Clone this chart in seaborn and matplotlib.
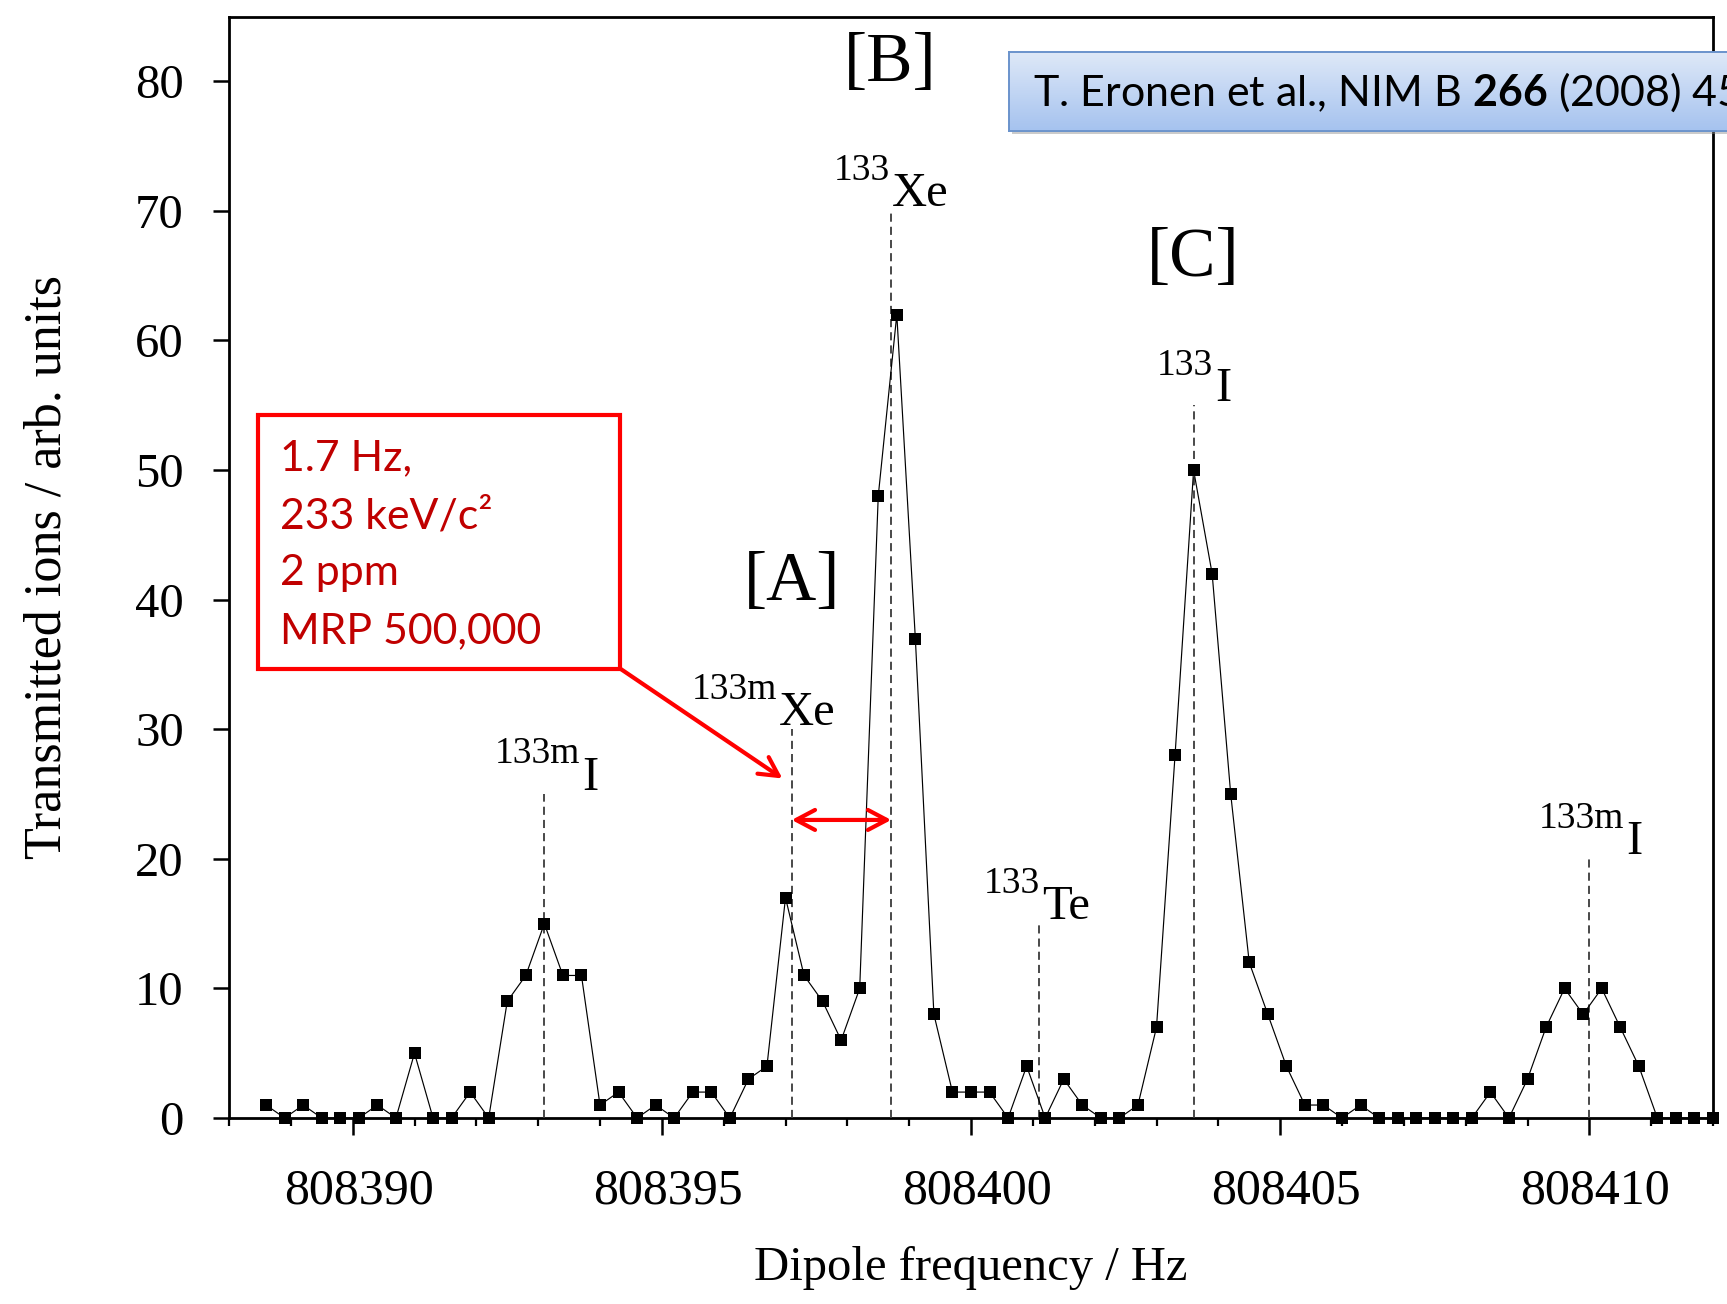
import numpy as np
import pandas as pd
import matplotlib
matplotlib.use("Agg")
import matplotlib.pyplot as plt
import seaborn as sns
from matplotlib.patches import Rectangle
from matplotlib.ticker import MultipleLocator
from matplotlib.colors import LinearSegmentedColormap
from matplotlib.transforms import ScaledTranslation

# ---------------- data ----------------
dipole_freq_hz = [
    808388.6, 808388.9, 808389.2, 808389.5, 808389.8, 808390.1, 808390.4, 808390.7, 808391.0, 808391.3,
    808391.6, 808391.9, 808392.2, 808392.5, 808392.8, 808393.1, 808393.4, 808393.7, 808394.0, 808394.3,
    808394.6, 808394.9, 808395.2, 808395.5, 808395.8, 808396.1, 808396.4, 808396.7, 808397.0, 808397.3,
    808397.6, 808397.9, 808398.2, 808398.5, 808398.8, 808399.1, 808399.4, 808399.7, 808400.0, 808400.3,
    808400.6, 808400.9, 808401.2, 808401.5, 808401.8, 808402.1, 808402.4, 808402.7, 808403.0, 808403.3,
    808403.6, 808403.9, 808404.2, 808404.5, 808404.8, 808405.1, 808405.4, 808405.7, 808406.0, 808406.3,
    808406.6, 808406.9, 808407.2, 808407.5, 808407.8, 808408.1, 808408.4, 808408.7, 808409.0, 808409.3,
    808409.6, 808409.9, 808410.2, 808410.5, 808410.8, 808411.1, 808411.4, 808411.7, 808412.0,
]
transmitted_ions = [
    1, 0, 1, 0, 0, 0, 1, 0, 5, 0,
    0, 2, 0, 9, 11, 15, 11, 11, 1, 2,
    0, 1, 0, 2, 2, 0, 3, 4, 17, 11,
    9, 6, 10, 48, 62, 37, 8, 2, 2, 2,
    0, 4, 0, 3, 1, 0, 0, 1, 7, 28,
    50, 42, 25, 12, 8, 4, 1, 1, 0, 1,
    0, 0, 0, 0, 0, 0, 2, 0, 3, 7,
    10, 8, 10, 7, 4, 0, 0, 0, 0,
]

x_ticks = [808390, 808395, 808400, 808405, 808410]
x_tick_labels = ["808390", "808395", "808400", "808405", "808410"]
y_ticks = [0, 10, 20, 30, 40, 50, 60, 70, 80]
y_tick_labels = ["0", "10", "20", "30", "40", "50", "60", "70", "80"]

iso_mass = ["133m", "133m", "133", "133", "133", "133m"]
iso_elem = ["I", "Xe", "Xe", "Te", "I", "I"]
iso_freq = [808393.1, 808397.1, 808398.7, 808401.1, 808403.6, 808410.0]
iso_top = [25, 30, 70, 15, 55, 20]
iso_label_shift = [0.60, -0.22, 0.0, 0.04, 0.33, 0.58]

group_names = ["[A]", "[B]", "[C]"]
group_freq = [808397.1, 808398.7, 808403.6]
group_y = [40, 80, 65]

note_lines = ["1.7 Hz,", "233 keV/c\u00b2", "2 ppm", "MRP 500,000"]
citation = r"T. Eronen et al., NIM B $\mathbf{266}$ (2008) 45"

# ---------------- style ----------------
sns.set_style("ticks")
plt.rcParams.update({
    "font.family": ["Liberation Serif", "DejaVu Serif"],
    "text.color": "black",
    "axes.labelcolor": "black",
    "axes.edgecolor": "black",
    "xtick.color": "black",
    "ytick.color": "black",
    "mathtext.fontset": "custom",
    "mathtext.rm": "Lato",
    "mathtext.it": "Lato:italic",
    "mathtext.bf": "Lato:bold",
})

W, H = 1727, 1304
def fxy(px, py):
    return (px / W, 1 - py / H)

fig = plt.figure(figsize=(W / 100, H / 100), dpi=100)
ax = fig.add_axes([229 / W, 1 - 1118 / H, (1713 - 229) / W, (1118 - 16.5) / H])

df = pd.DataFrame({"freq": dipole_freq_hz, "ions": transmitted_ions})
sns.lineplot(data=df, x="freq", y="ions", ax=ax, color="black", lw=0.85,
             marker="s", markersize=8, markeredgewidth=0, markerfacecolor="black",
             estimator=None, sort=False, clip_on=False, zorder=5)

ax.set_xlim(808388.0, 808412.0)
ax.set_ylim(0, 85)
ax.set_xticks(x_ticks)
ax.set_xticklabels(x_tick_labels)
ax.set_yticks(y_ticks)
ax.set_yticklabels(y_tick_labels)
ax.xaxis.set_minor_locator(MultipleLocator(1))
ax.tick_params(axis="both", which="major", direction="out", width=1.8)
ax.tick_params(axis="x", which="major", length=12, pad=24, labelsize=36)
ax.tick_params(axis="y", which="major", length=11.5, pad=21, labelsize=35)
ax.tick_params(axis="x", which="minor", direction="out", length=6, width=1.6)
shift = ScaledTranslation(0.06, 0, fig.dpi_scale_trans)
for lab in ax.get_xticklabels():
    lab.set_transform(lab.get_transform() + shift)
for sp in ax.spines.values():
    sp.set_linewidth(2.0)
    sp.set_visible(True)

ax.set_xlabel("Dipole frequency / Hz", fontsize=35)
ax.set_ylabel("Transmitted ions / arb. units", fontsize=37.5)
ax.xaxis.set_label_coords(0.5, -0.116)
ax.yaxis.set_label_coords(-0.106, 0.5)

# isotope markers
for m, e, f, top, s in zip(iso_mass, iso_elem, iso_freq, iso_top, iso_label_shift):
    ax.vlines(f, 0, top, colors="#3a3a3a", linestyles=(0, (4.5, 2.8)), lw=1.3, zorder=3)
    ax.annotate(m, xy=(f + s, top), xytext=(-0.8, 22), textcoords="offset points",
                ha="right", va="baseline", fontsize=27)
    ax.annotate(e, xy=(f + s, top), xytext=(0.8, 3.2), textcoords="offset points",
                ha="left", va="baseline", fontsize=35)

for name, f, y in zip(group_names, group_freq, group_y):
    ax.text(f, y, name, ha="center", va="baseline", fontsize=50)

# red annotation box
red = "#ff0000"
ax.add_patch(Rectangle(fxy(258, 668.5), (620 - 258) / W, (668.5 - 415) / H,
                       transform=fig.transFigure, facecolor="white", edgecolor=red,
                       lw=3, clip_on=False, zorder=6))
for txt, base in zip(note_lines, [470.7, 528.3, 585.0, 643.3]):
    fx_, fy_ = fxy(279.5, base)
    ax.text(fx_, fy_, txt, transform=fig.transFigure, color="#c00000",
            family=["Lato", "DejaVu Sans"], fontsize=30.8, va="baseline", ha="left", zorder=7)

ax.annotate("", xy=(808396.95, 26.2), xycoords="data",
            xytext=fxy(620, 668.5), textcoords="figure fraction",
            arrowprops=dict(arrowstyle="->,head_length=0.68,head_width=0.36",
                            color=red, lw=3, shrinkA=0, shrinkB=0, mutation_scale=20),
            zorder=7)
ax.annotate("", xy=(808397.1, 23), xytext=(808398.71, 23),
            arrowprops=dict(arrowstyle="<->,head_length=0.68,head_width=0.36",
                            color=red, lw=3, shrinkA=0, shrinkB=0, mutation_scale=20),
            zorder=7)

# citation box (shadow + gradient)
ax.add_patch(Rectangle(fxy(1012, 134), (1760 - 1012) / W, (130.5 - 51.8) / H,
                       transform=fig.transFigure, facecolor="#8c8c8c", alpha=0.45,
                       edgecolor="none", clip_on=False, zorder=8))
cax = fig.add_axes([1009 / W, 1 - 130.5 / H, (1760 - 1009) / W, (130.5 - 51.8) / H])
grad = np.linspace(0, 1, 200).reshape(-1, 1)
cmap = LinearSegmentedColormap.from_list("citegrad", ["#dfe9f8", "#a6c3ef"])
cax.imshow(grad, aspect="auto", cmap=cmap, extent=[0, 1, 0, 1], origin="upper")
cax.set_xticks([])
cax.set_yticks([])
for sp in cax.spines.values():
    sp.set_color("#6a93cc")
    sp.set_linewidth(1.4)
fx_, fy_ = fxy(1033, 106)
fig.text(fx_, fy_, citation, family=["Lato", "DejaVu Sans"], fontsize=31,
         va="baseline", ha="left", color="black", zorder=10)

fig.savefig("out.png", dpi=100)
